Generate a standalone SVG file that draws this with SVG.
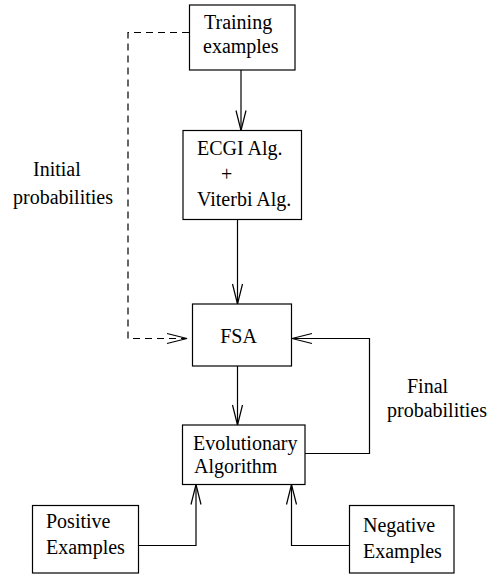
<svg xmlns="http://www.w3.org/2000/svg" width="489" height="574" viewBox="0 0 489 574">
<style>
.box{fill:#fff;stroke:#000;stroke-width:1.2}
.ln{fill:none;stroke:#000;stroke-width:1.2}
.dash{stroke-dasharray:7 5}
text{font-family:"Liberation Serif","Times New Roman",serif;font-size:20px;fill:#000}
</style>
<defs>
<marker id="ah" markerUnits="userSpaceOnUse" markerWidth="30" markerHeight="16" viewBox="-22 -8 24 16" refX="0" refY="0" orient="auto">
<path d="M-20,-5 L0,0 L-20,5" fill="none" stroke="#000" stroke-width="1.2"/>
</marker>
</defs>
<rect width="489" height="574" fill="#fff"/>
<g id="connectors">
<path class="ln dash" d="M189,32.5 H128 V338.5 H187" marker-end="url(#ah)"/>
<path class="ln" d="M241,70 V130.5" marker-end="url(#ah)"/>
<path class="ln" d="M237.5,219.5 V304" marker-end="url(#ah)"/>
<path class="ln" d="M237.5,366 V425" marker-end="url(#ah)"/>
<path class="ln" d="M305,453.5 H369.5 V338.5 H292" marker-end="url(#ah)"/>
<path class="ln" d="M138.5,545.5 H196 V484.5" marker-end="url(#ah)"/>
<path class="ln" d="M349.5,545.5 H291.5 V484.5" marker-end="url(#ah)"/>
</g>
<g id="label-initial">
<text x="33" y="176">Initial</text>
<text x="13" y="204">probabilities</text>
</g>
<g id="label-final">
<text x="407" y="393">Final</text>
<text x="387" y="417">probabilities</text>
</g>
<g id="training">
<rect class="box" x="189.5" y="5" width="105.5" height="65"/>
<text x="204" y="29">Training</text>
<text x="203" y="53">examples</text>
</g>
<g id="ecgi">
<rect class="box" x="183" y="130.5" width="118.5" height="89"/>
<text x="197" y="155">ECGI Alg.</text>
<text x="221" y="181">+</text>
<text x="197" y="206">Viterbi Alg.</text>
</g>
<g id="fsa">
<rect class="box" x="192.5" y="304" width="99" height="62"/>
<text x="238.5" y="342.5" text-anchor="middle">FSA</text>
</g>
<g id="evolutionary">
<rect class="box" x="182.5" y="425" width="122.5" height="59.5"/>
<text x="193" y="450">Evolutionary</text>
<text x="194" y="473">Algorithm</text>
</g>
<g id="positive">
<rect class="box" x="32.5" y="505.5" width="106" height="67.5"/>
<text x="46" y="528">Positive</text>
<text x="46" y="554">Examples</text>
</g>
<g id="negative">
<rect class="box" x="349.5" y="505.5" width="104.5" height="67.5"/>
<text x="363" y="532">Negative</text>
<text x="363" y="558">Examples</text>
</g>
</svg>
